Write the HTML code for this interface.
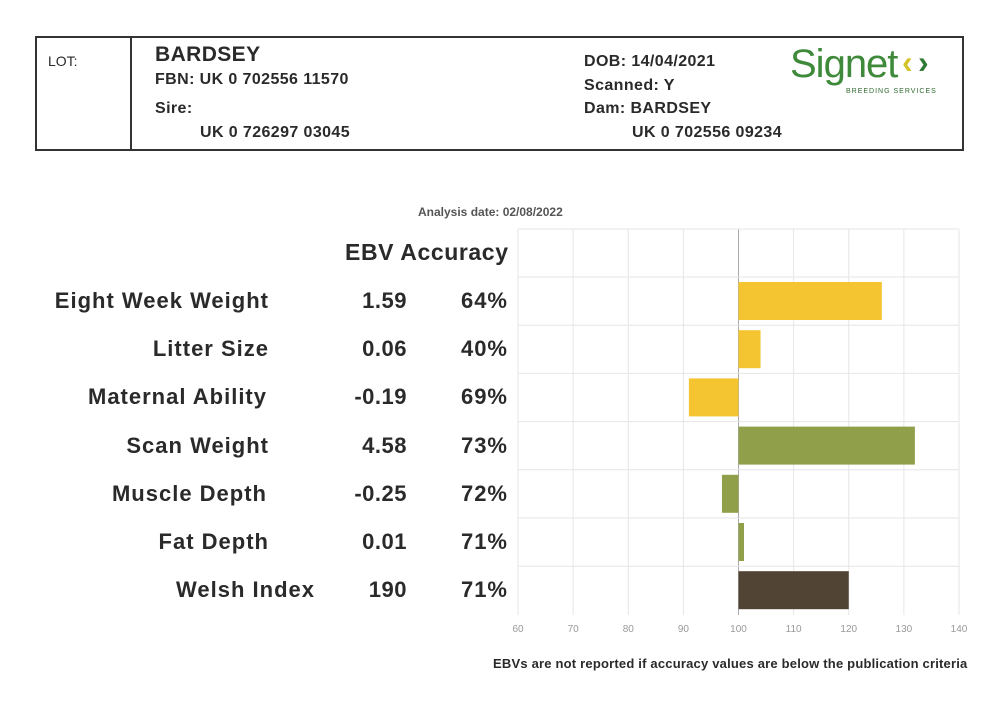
<!DOCTYPE html>
<html><head><meta charset="utf-8"><style>
body{margin:0;background:#fff;font-family:"Liberation Sans",sans-serif;}
#page{position:relative;width:1000px;height:708px;overflow:hidden;background:#fff;}
.t{position:absolute;font-weight:bold;color:#2a2a2a;white-space:nowrap;}
.h{font-size:16px;letter-spacing:0.4px;}
</style></head><body>
<div id="page">
<div style="position:absolute;left:35px;top:36px;width:929px;height:115px;border:2px solid #333;box-sizing:border-box;"></div>
<div style="position:absolute;left:130px;top:36px;width:2px;height:115px;background:#333;"></div>
<div class="t" style="left:48px;top:53px;font-size:14px;font-weight:normal;">LOT:</div>
<div class="t" style="left:155px;top:43px;font-size:21px;letter-spacing:0.4px;">BARDSEY</div>
<div class="t h" style="left:155px;top:71px;">FBN: UK 0 702556 11570</div>
<div class="t h" style="left:155px;top:100px;">Sire:</div>
<div class="t h" style="left:200px;top:124px;">UK 0 726297 03045</div>
<div class="t h" style="left:584px;top:53px;">DOB: 14/04/2021</div>
<div class="t h" style="left:584px;top:77px;">Scanned: Y</div>
<div class="t h" style="left:584px;top:100px;">Dam: BARDSEY</div>
<div class="t h" style="left:632px;top:124px;">UK 0 702556 09234</div>
<div style="position:absolute;left:790px;top:44px;width:160px;height:55px;">
<span style="position:absolute;left:0;top:-2px;font-family:'Liberation Sans Narrow','Liberation Sans',sans-serif;font-size:40px;color:#3f8a3a;letter-spacing:-1px;">Signet</span>
<span style="position:absolute;left:112px;top:0px;font-size:32px;font-weight:bold;color:#d4c22a;">‹</span><span style="position:absolute;left:128px;top:0px;font-size:32px;font-weight:bold;color:#2f7a34;">›</span>
<div style="position:absolute;left:56px;top:44px;font-size:7px;letter-spacing:1px;color:#2f6a30;white-space:nowrap;">BREEDING SERVICES</div>
</div>
<div class="t" style="left:418px;top:205px;font-size:12px;color:#555;">Analysis date: 02/08/2022</div>
<div class="t" style="left:345px;top:239px;font-size:23px;letter-spacing:0.6px;">EBV Accuracy</div>
<div id="rows"></div>
<svg id="chart" width="1000" height="708" style="position:absolute;left:0;top:0;"></svg>
<div class="t" style="left:493px;top:656px;font-size:13px;letter-spacing:0.2px;">EBVs are not reported if accuracy values are below the publication criteria</div>
</div>
<script>
const traits=["Eight Week Weight","Litter Size","Maternal Ability","Scan Weight","Muscle Depth","Fat Depth","Welsh Index"];
const ebvs=["1.59","0.06","-0.19","4.58","-0.25","0.01","190"];
const accuracies=["64%","40%","69%","73%","72%","71%","71%"];
const indexValues=[126,104,91,132,97,101,120];
const barColors=["#f5c531","#f5c531","#f5c531","#90a04a","#90a04a","#90a04a","#514434"];
const ticks=[60,70,80,90,100,110,120,130,140];
const NS="http://www.w3.org/2000/svg";
const x=v=>518+(v-60)*(959-518)/80;
const top0=277,rowH=48.2;
const svg=document.getElementById('chart');
function mk(t,a){const e=document.createElementNS(NS,t);for(const k in a)e.setAttribute(k,a[k]);svg.appendChild(e);return e;}
ticks.forEach(t=>{
 const l=mk('line',{x1:x(t),x2:x(t),y1:229,y2:615,stroke:t===100?'#aaa':'#e6e6e6','stroke-width':1});
 
 
 const tx=mk('text',{x:x(t),y:632,'font-size':10,fill:'#999','text-anchor':'middle','font-family':'Liberation Sans, sans-serif'});
 tx.textContent=t;
 
 
});
for(let i=0;i<=traits.length;i++){
 const y=i===0?229:top0+(i-1)*rowH;
 const l=mk('line',{x1:518,x2:959,y1:y,y2:y,stroke:'#e6e6e6'});
 
 
}
const rows=document.getElementById('rows');
const labelRight=[268,268,266,268,266,268,314];
traits.forEach((tr,i)=>{
 const v=indexValues[i];
 const r=mk('rect',{x:Math.min(x(v),x(100)),y:top0+i*rowH+5,width:Math.abs(x(v)-x(100)),height:38,fill:barColors[i]});
 
 
 const cy=top0+i*rowH+24-13;
 const a=document.createElement('div');a.className='t';a.style.cssText=`right:${1000-labelRight[i]-1}px;top:${cy}px;font-size:22px;letter-spacing:1px;`;a.textContent=tr;
 
 
 rows.appendChild(a);
 const b=document.createElement('div');b.className='t';b.style.cssText=`right:${1000-407}px;top:${cy}px;font-size:22px;letter-spacing:0.5px;`;b.textContent=ebvs[i];
 
 
 rows.appendChild(b);
 const c=document.createElement('div');c.className='t';c.style.cssText=`right:${1000-508}px;top:${cy}px;font-size:22px;letter-spacing:1px;`;c.textContent=accuracies[i];
 
 
 rows.appendChild(c);
});
</script>
</body></html>
